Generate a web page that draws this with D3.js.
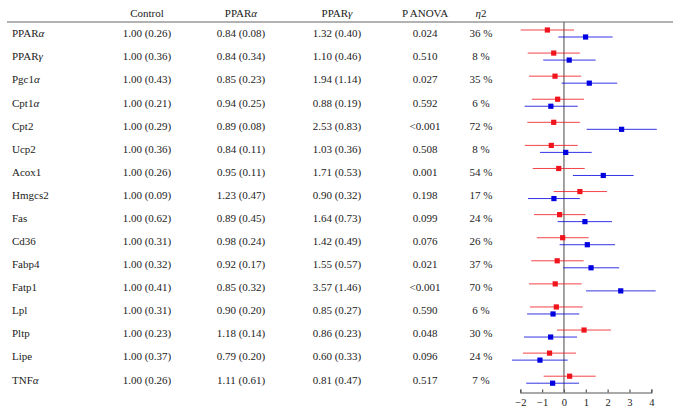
<!DOCTYPE html>
<html>
<head>
<meta charset="utf-8">
<script src="https://cdn.jsdelivr.net/npm/d3@7"></script>
<style>
  html, body { margin: 0; padding: 0; background: #fff; }
  svg { display: block; }
  text { font-family: "Liberation Serif", "DejaVu Serif", serif; fill: #222; }
</style>
</head>
<body>
<svg id="chart" width="680" height="414"></svg>
<script>
// ---- data ----
const genes = ["PPARα","PPARγ","Pgc1α","Cpt1α","Cpt2","Ucp2","Acox1","Hmgcs2","Fas","Cd36","Fabp4","Fatp1","Lpl","Pltp","Lipe","TNFα"];
const controlMean = [1.00,1.00,1.00,1.00,1.00,1.00,1.00,1.00,1.00,1.00,1.00,1.00,1.00,1.00,1.00,1.00];
const controlSD   = [0.26,0.36,0.43,0.21,0.29,0.36,0.26,0.09,0.62,0.31,0.32,0.41,0.31,0.23,0.37,0.26];
const pparaMean   = [0.84,0.84,0.85,0.94,0.89,0.84,0.95,1.23,0.89,0.98,0.92,0.85,0.90,1.18,0.79,1.11];
const pparaSD     = [0.08,0.34,0.23,0.25,0.08,0.11,0.11,0.47,0.45,0.24,0.17,0.32,0.20,0.14,0.20,0.61];
const ppargMean   = [1.32,1.10,1.94,0.88,2.53,1.03,1.71,0.90,1.64,1.42,1.55,3.57,0.85,0.86,0.60,0.81];
const ppargSD     = [0.40,0.46,1.14,0.19,0.83,0.36,0.53,0.32,0.73,0.49,0.57,1.46,0.27,0.23,0.33,0.47];
const pAnova      = ["0.024","0.510","0.027","0.592","<0.001","0.508","0.001","0.198","0.099","0.076","0.021","<0.001","0.590","0.048","0.096","0.517"];
const eta2        = ["36 %","8 %","35 %","6 %","72 %","8 %","54 %","17 %","24 %","26 %","37 %","70 %","6 %","30 %","24 %","7 %"];
// effect sizes (PPARα vs control: red; PPARγ vs control: blue)
const redEst  = [-0.76,-0.47,-0.41,-0.29,-0.47,-0.58,-0.24, 0.73,-0.20,-0.06,-0.31,-0.40,-0.35, 0.92,-0.66, 0.26];
const redLo   = [-1.98,-1.66,-1.60,-1.47,-1.68,-1.79,-1.43,-0.47,-1.37,-1.24,-1.50,-1.60,-1.56,-0.32,-1.88,-0.93];
const redHi   = [ 0.46, 0.73, 0.79, 0.92, 0.73, 0.63, 0.95, 1.97, 0.99, 1.13, 0.90, 0.81, 0.86, 2.15, 0.55, 1.45];
const blueEst = [ 0.99, 0.24, 1.16,-0.60, 2.64, 0.08, 1.80,-0.46, 0.96, 1.07, 1.24, 2.60,-0.50,-0.61,-1.10,-0.52];
const blueLo  = [-0.26,-0.95,-0.11,-1.80, 1.04,-1.10, 0.41,-1.65,-0.29,-0.20,-0.03, 1.01,-1.69,-1.83,-2.38,-1.73];
const blueHi  = [ 2.23, 1.45, 2.44, 0.63, 4.25, 1.27, 3.19, 0.73, 2.20, 2.34, 2.53, 4.20, 0.70, 0.60, 0.17, 0.69];
const headers = ["Control","PPARα","PPARγ","P ANOVA","η2"];
const xTicks  = [-2,-1,0,1,2,3,4];

// ---- layout ----
const svg = d3.select("#chart");
const fmt = d3.format(".2f");
const rowY = d3.scalePoint().domain(genes).range([30, 30 + 15 * 23.08]);
const x = d3.scaleLinear().domain([-2, 4]).range([520.3, 651.3]);
const colX = [147, 241, 337, 425, 481];
const RED = "#f0141c", BLUE = "#0000e0";

// styled text with italic greek letters
function richText(sel, str) {
  const parts = str.split(/([αγη])/);
  parts.forEach(p => {
    if (!p) return;
    const t = sel.append("tspan").text(p);
    if (/[αγη]/.test(p)) t.attr("font-style", "italic");
  });
}

// header
headers.forEach((h, i) => {
  const t = svg.append("text").attr("x", colX[i]).attr("y", 17)
    .attr("text-anchor", "middle").attr("font-size", 11);
  richText(t, h);
});
svg.append("line").attr("x1", 7).attr("x2", 673).attr("y1", 22).attr("y2", 22)
  .attr("stroke", "#666").attr("stroke-width", 1.2);

// rows text
genes.forEach((g, i) => {
  const y = rowY(g) + 7.3;
  const lab = svg.append("text").attr("x", 12).attr("y", y).attr("font-size", 11);
  richText(lab, g);
  const cells = [
    `${fmt(controlMean[i])} (${fmt(controlSD[i])})`,
    `${fmt(pparaMean[i])} (${fmt(pparaSD[i])})`,
    `${fmt(ppargMean[i])} (${fmt(ppargSD[i])})`,
    pAnova[i], eta2[i]
  ];
  cells.forEach((c, j) => {
    svg.append("text").attr("x", colX[j]).attr("y", y)
      .attr("text-anchor", "middle").attr("font-size", 11).text(c);
  });
});

// forest plot
const axisY = 392.5;
svg.append("line").attr("x1", x(0)).attr("x2", x(0)).attr("y1", 22).attr("y2", axisY)
  .attr("stroke", "#666").attr("stroke-width", 1.2);

const plot = svg.append("g");
function drawSeries(est, lo, hi, color, dy) {
  const g = plot.append("g");
  g.selectAll("line").data(genes).join("line")
    .attr("x1", (d, i) => x(lo[i])).attr("x2", (d, i) => x(hi[i]))
    .attr("y1", d => rowY(d) + dy).attr("y2", d => rowY(d) + dy)
    .attr("stroke", color).attr("stroke-width", 1).attr("stroke-opacity", 0.8);
  g.selectAll("rect").data(genes).join("rect")
    .attr("x", (d, i) => x(est[i]) - 2.6).attr("y", d => rowY(d) + dy - 2.6)
    .attr("width", 5.2).attr("height", 5.2).attr("fill", color);
}
drawSeries(redEst, redLo, redHi, RED, 0);
drawSeries(blueEst, blueLo, blueHi, BLUE, 7);

// x axis
const axis = d3.axisBottom(x).tickValues(xTicks).tickSize(-3).tickPadding(6)
  .tickFormat(d => d < 0 ? "−" + Math.abs(d) : String(d));
const ag = svg.append("g").attr("transform", `translate(0,${axisY})`).call(axis);
ag.select(".domain").attr("stroke", "#555").attr("stroke-width", 1.2);
ag.selectAll(".tick line").attr("stroke", "#555").attr("stroke-width", 1.2);
ag.selectAll(".tick text").attr("font-family", "Liberation Serif, serif").attr("font-size", 10.5).attr("fill", "#222");
</script>
</body>
</html>
